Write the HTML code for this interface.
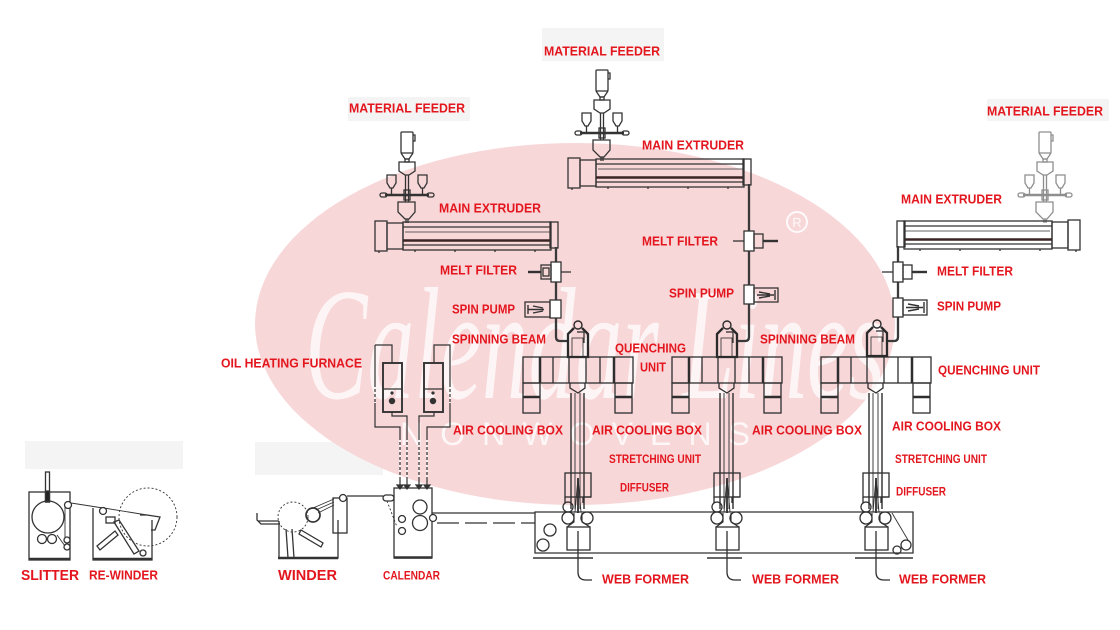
<!DOCTYPE html>
<html>
<head>
<meta charset="utf-8">
<style>
html,body{margin:0;padding:0;background:#fff;}
svg{display:block;}
.lb{font-family:"Liberation Sans",Arial,sans-serif;font-weight:bold;fill:#e3161e;font-size:13px;}
</style>
</head>
<body>
<svg width="1120" height="630" viewBox="0 0 1120 630" xmlns="http://www.w3.org/2000/svg">
<defs>
  <g id="feeder" fill="none" stroke="#333" stroke-width="1.3">
    <rect x="-6" y="0" width="12" height="21" rx="1"/>
    <path d="M6,3 h2 v6 h-2"/>
    <path d="M-6,21 L-2,27 H2 L6,21"/>
    <rect x="-2" y="27" width="4" height="3"/>
    <path d="M-8,30 H8 V39 L2,43 H-2 L-8,39 Z"/>
    <path d="M-1.5,43 V70 M1.5,43 V70"/>
    <path d="M-20,43 H-11 V51 L-14,56 H-17 L-20,51 Z"/>
    <path d="M11,43 H20 V51 L17,56 H14 L11,51 Z"/>
    <path d="M-15.5,56 V62 M15.5,56 V62"/>
    <path d="M-22,63 H22" stroke-width="2.6"/>
    <rect x="-27" y="61" width="7" height="4" rx="2"/>
    <rect x="20" y="61" width="7" height="4" rx="2"/>
    <rect x="-3" y="58" width="6" height="10"/>
    <path d="M-9,70 H8 V80 L2,87 H-2 L-9,80 Z"/>
    <path d="M-1,87 V91 M1,87 V91"/>
  </g>
  <g id="extr" fill="none" stroke="#333" stroke-width="1.3">
    <rect x="0" y="1" width="12" height="30"/>
    <rect x="12" y="3" width="16" height="26"/>
    <rect x="28" y="2" width="148" height="28"/>
    <line x1="28" y1="7" x2="176" y2="7"/>
    <line x1="30" y1="12" x2="176" y2="12" stroke-width="0.8"/>
    <line x1="28" y1="20.5" x2="176" y2="20.5" stroke-width="2.6" stroke="#3a2424"/>
    <line x1="28" y1="25" x2="176" y2="25"/>
    <rect x="175" y="2" width="8" height="26"/>
    <path d="M4,31 v2 M40,30 v2 M80,30 v2 M120,30 v2 M160,30 v2"/>
  </g>
  <g id="beam" fill="none" stroke="#2a2a2a">
    <circle cx="0" cy="4" r="4" stroke-width="1.4"/>
    <path d="M-4,7 L-10,13 V36 H10 V13 L4,7" stroke-width="2.3"/>
    <rect x="-6" y="17" width="11" height="19" stroke-width="0.8"/>
    <path d="M-1,11 H6 V22" stroke-width="1.2"/>
  </g>
  <g id="quench" fill="none" stroke="#2e2e2e" stroke-width="1.3">
    <rect x="-55" y="0" width="110" height="26"/>
    <path d="M-38,0 V26 M36,0 V26" stroke-width="2.5"/>
    <path d="M-25,0 V26 M-9,0 V26 M8,0 V26 M22,0 V26"/>
    <rect x="-55" y="26" width="17" height="30"/>
    <rect x="37" y="26" width="17" height="30"/>
    <path d="M-55,40 H-38 M37,40 H54" stroke-width="2.5"/>
    <path d="M-8,26 V31 L0,36 L7,31 V26"/>
  </g>
  <g id="tube" fill="none" stroke="#2e2e2e">
    <path d="M-7,36 V152 M6,36 V152" stroke-width="1.4"/>
    <path d="M-3,36 V152 M2,36 V152" stroke-width="0.9"/>
    <rect x="-13" y="116" width="26" height="24" stroke-width="1.3"/>
    <path d="M-13,140 V146 M5,140 H13 M5,140 V146" stroke-width="1.3"/>
    <path d="M0,121 L-3,155 M0,121 L3,155" stroke-width="0.9"/>
    <path d="M0,121 V156" stroke-width="1.8"/>
    <circle cx="-10" cy="150" r="5" stroke-width="1.3"/>
    <circle cx="-10" cy="161" r="6" stroke-width="1.3"/>
    <circle cx="9" cy="161" r="6" stroke-width="1.3"/>
    <path d="M-4,156 V165 L-11,170 M4,156 V165 L12,170" stroke-width="1.1"/>
    <rect x="-11" y="170" width="23" height="23" stroke-width="1.3"/>
    <path d="M0,174 V215 Q0,223 8,223 H14" stroke-width="1.3"/>
  </g>
</defs>

<!-- light gray patches -->
<g fill="#f4f4f4">
  <rect x="542" y="28" width="122" height="33"/>
  <rect x="348" y="97" width="122" height="24"/>
  <rect x="987" y="99" width="122" height="22"/>
  <rect x="25" y="441" width="158" height="28"/>
  <rect x="255" y="442" width="128" height="33"/>
</g>

<!-- watermark ellipse -->
<ellipse cx="575" cy="324" rx="320" ry="181" fill="#f8d7d9"/>
<text x="305" y="398" font-family="'Liberation Serif',serif" font-style="italic" font-size="160" fill="#ffffff" opacity="0.75" textLength="580" lengthAdjust="spacingAndGlyphs">Calendar Lines</text>
<text x="400" y="445" font-family="'Liberation Sans',sans-serif" font-size="32" fill="#ffffff" opacity="0.8" textLength="350" lengthAdjust="spacing">NONWOVENS</text>
<circle cx="797" cy="222" r="10" fill="none" stroke="#fff" stroke-width="2" opacity="0.85"/>
<text x="797" y="227" text-anchor="middle" font-family="'Liberation Sans',sans-serif" font-size="13" fill="#fff" opacity="0.85">R</text>

<!-- feeders -->
<use href="#feeder" x="407" y="132"/>
<use href="#feeder" x="602" y="70"/>
<use href="#feeder" x="1045" y="132" opacity="0.55"/>

<!-- extruders -->
<use href="#extr" transform="translate(375,220)"/>
<use href="#extr" transform="translate(568,157)"/>
<use href="#extr" transform="translate(1080,219) scale(-1,1)"/>

<!-- pipes -->
<g fill="none" stroke="#3a3a3a" stroke-width="2.3">
  <path d="M556,247 V337 Q556,341 560,341 H569"/>
  <path d="M749,184 V337 Q749,341 745,341 H736"/>
  <path d="M898,246 V337 Q898,341 894,341 H886"/>
</g>

<!-- melt filters -->
<g fill="none" stroke="#333" stroke-width="1.3">
  <rect x="551" y="262" width="10" height="20" fill="#fff"/>
  <rect x="541" y="265" width="10" height="14"/>
  <rect x="543" y="268" width="6" height="8"/>
  <path d="M528,272 H541" stroke-width="2.4"/>
  <path d="M561,272 H571"/>

  <rect x="744" y="231" width="10" height="20" fill="#fff"/>
  <rect x="754" y="234" width="9" height="14"/>
  <path d="M733,241 H744"/>
  <path d="M763,241 H778" stroke-width="2.4"/>

  <rect x="893" y="262" width="10" height="20" fill="#fff"/>
  <rect x="903" y="265" width="9" height="14"/>
  <path d="M882,272 H893"/>
  <path d="M912,272 H927" stroke-width="2.4"/>
</g>

<!-- spin pumps -->
<g fill="none" stroke="#333" stroke-width="1.3">
  <rect x="550" y="300" width="11" height="18" fill="#fff"/>
  <rect x="525" y="302" width="25" height="15"/>
  <path d="M528,305 V314 M528,309.5 H544 M533,306 L543,308 M533,313 L543,311" stroke-width="1.4"/>

  <rect x="744" y="285" width="10" height="19" fill="#fff"/>
  <rect x="754" y="288" width="24" height="14"/>
  <path d="M775,290 V300 M757,295 H774 M759,292 L770,294 M759,298 L770,296" stroke-width="1.4"/>

  <rect x="893" y="298" width="10" height="19" fill="#fff"/>
  <rect x="903" y="300" width="24" height="15"/>
  <path d="M924,302 V313 M906,307.5 H923 M908,304 L919,306 M908,311 L919,309" stroke-width="1.4"/>
</g>

<!-- spinning beams, quench, tubes -->
<use href="#beam" x="578" y="321"/>
<use href="#beam" x="727" y="321"/>
<use href="#beam" x="877" y="320"/>
<use href="#quench" x="578" y="357"/>
<use href="#quench" x="727" y="357"/>
<use href="#quench" x="876" y="357"/>
<use href="#tube" x="578" y="357"/>
<use href="#tube" x="727" y="357"/>
<use href="#tube" x="876" y="357"/>

<!-- conveyor -->
<g fill="none" stroke="#333" stroke-width="1.3">
  <path d="M535,512 H913 V553 H535 Z"/>
  <path d="M533,558 H593 M707,558 H742 M855,558 H913" stroke-width="1.4"/>
  <circle cx="550" cy="530" r="6"/>
  <circle cx="543" cy="545" r="6"/>
  <circle cx="897" cy="550" r="4"/>
  <circle cx="906" cy="545" r="5"/>
  <path d="M892,513 L908,540" stroke-width="0.9"/>
  <path d="M432,513 H535"/>
  <path d="M437,523 H535" stroke-dasharray="22,6"/>
</g>

<!-- oil heating furnace -->
<g fill="none" stroke="#333" stroke-width="1.2">
  <rect x="383" y="363" width="19" height="49" stroke-width="1.9"/>
  <path d="M383,389 H402"/>
  <circle cx="392" cy="393" r="1" fill="#333"/>
  <circle cx="392" cy="401" r="2.6" fill="#333"/>
  <rect x="424" y="363" width="19" height="49" stroke-width="1.9"/>
  <path d="M424,389 H443"/>
  <circle cx="433" cy="393" r="1" fill="#333"/>
  <circle cx="433" cy="401" r="2.6" fill="#333"/>
  <path d="M375,345 H392 V363"/>
  <path d="M375,345 V427 H400 V485"/>
  <path d="M392,412 V416 H407 V485"/>
  <path d="M434,363 V345 H450 V427 H427 V485"/>
  <path d="M434,412 V416 H419 V485"/>
  <path d="M375,387 V403 M450,387 V403 M400,440 V478 M407,440 V478 M419,440 V478 M427,440 V478" stroke="#fff" stroke-width="1.6" stroke-dasharray="2,3"/>
  <path d="M397,485 L400,489 L403,485 Z M404,485 L407,489 L410,485 Z M416,485 L419,489 L422,485 Z M424,485 L427,489 L430,485 Z" fill="#333"/>
</g>

<!-- calendar -->
<g fill="none" stroke="#333" stroke-width="1.3">
  <rect x="394" y="488" width="38" height="70"/>
  <path d="M394,557.5 H432" stroke-width="2.6"/>
  <circle cx="420" cy="507" r="7"/>
  <circle cx="420" cy="523" r="7.5"/>
  <circle cx="402" cy="519" r="3.5"/>
  <circle cx="402" cy="531" r="3.5"/>
  <circle cx="433" cy="518" r="3.5" fill="#fff"/>
  <rect x="383" y="495" width="11" height="6" rx="3"/>
  <path d="M387,501 L397,527" stroke-dasharray="2,2" stroke-width="0.9"/>
  <path d="M347,496 H383"/>
</g>

<!-- winder -->
<g fill="none" stroke="#333" stroke-width="1.3">
  <path d="M257,513 V520 L261,524 H280"/>
  <path d="M258,521 H279"/>
  <path d="M279,521 V558 H338 V520"/>
  <path d="M278,558 H338" stroke-width="2.6"/>
  <circle cx="293" cy="517" r="15" stroke-dasharray="2,2" stroke-width="0.9"/>
  <circle cx="313" cy="515" r="7" stroke-width="1.7"/>
  <rect x="333" y="498" width="14" height="35"/>
  <circle cx="343" cy="498" r="3.5" fill="#fff"/>
  <path d="M313,508 L334,499 M316,510 L334,502 M318,513 L334,505" stroke-width="0.8"/>
  <path d="M301,530 L323,543 L321,547 L299,534 Z"/>
  <path d="M286,529 L288,558 M292,529 L294,558"/>
</g>

<!-- slitter -->
<g fill="none" stroke="#333" stroke-width="1.3">
  <rect x="29" y="492" width="41" height="68"/>
  <path d="M29,559 H70" stroke-width="2.4"/>
  <rect x="45.5" y="472" width="4" height="30"/>
  <rect x="45.5" y="491" width="4" height="11" fill="#222"/>
  <circle cx="48" cy="517" r="16"/>
  <circle cx="42" cy="539" r="4.5"/>
  <circle cx="52" cy="539" r="4.5"/>
  <circle cx="68" cy="505" r="3.5" fill="#fff"/>
  <circle cx="67" cy="540" r="3" fill="#fff"/>
  <circle cx="67" cy="547" r="3" fill="#fff"/>
  <path d="M65,506 V537 M57,535 L65,546" stroke-width="0.9"/>
  <path d="M71,503 L103,508" stroke-width="0.9"/>
</g>

<!-- re-winder -->
<g fill="none" stroke="#333" stroke-width="1.3">
  <path d="M93,508 V560 H152 V520"/>
  <path d="M93,559 H152" stroke-width="2.4"/>
  <circle cx="148" cy="517" r="29" stroke-dasharray="2,2" stroke-width="0.9"/>
  <circle cx="103" cy="511" r="3.5" fill="#fff"/>
  <path d="M104,508 L147,515" stroke-width="0.9"/>
  <rect x="106" y="517" width="9" height="6"/>
  <path d="M114,522 L134,554 L139,551 L119,520 Z"/>
  <path d="M97,546 L115,531 L118,535 L100,550 Z"/>
  <circle cx="143" cy="553" r="3"/>
  <path d="M140,515 H147 L160,517 L155,530 H151"/>
</g>

<!-- labels -->
<g class="lb">
  <text x="349" y="112.7" textLength="116" lengthAdjust="spacingAndGlyphs">MATERIAL FEEDER</text>
  <text x="544" y="55.7" textLength="116" lengthAdjust="spacingAndGlyphs">MATERIAL FEEDER</text>
  <text x="987" y="115.7" textLength="116" lengthAdjust="spacingAndGlyphs">MATERIAL FEEDER</text>
  <text x="439" y="212.7" textLength="102" lengthAdjust="spacingAndGlyphs">MAIN EXTRUDER</text>
  <text x="642" y="149.7" textLength="102" lengthAdjust="spacingAndGlyphs">MAIN EXTRUDER</text>
  <text x="901" y="203.7" textLength="101" lengthAdjust="spacingAndGlyphs">MAIN EXTRUDER</text>
  <text x="440" y="274.7" textLength="77" lengthAdjust="spacingAndGlyphs">MELT FILTER</text>
  <text x="642" y="245.7" textLength="76" lengthAdjust="spacingAndGlyphs">MELT FILTER</text>
  <text x="937" y="275.7" textLength="76" lengthAdjust="spacingAndGlyphs">MELT FILTER</text>
  <text x="452" y="313.7" textLength="63" lengthAdjust="spacingAndGlyphs">SPIN PUMP</text>
  <text x="669" y="297.7" textLength="65" lengthAdjust="spacingAndGlyphs">SPIN PUMP</text>
  <text x="937" y="310.7" textLength="64" lengthAdjust="spacingAndGlyphs">SPIN PUMP</text>
  <text x="452" y="343.7" textLength="94" lengthAdjust="spacingAndGlyphs">SPINNING BEAM</text>
  <text x="760" y="343.7" textLength="95" lengthAdjust="spacingAndGlyphs">SPINNING BEAM</text>
  <text x="615" y="352.7" textLength="71" lengthAdjust="spacingAndGlyphs">QUENCHING</text>
  <text x="640" y="371.7" textLength="26" lengthAdjust="spacingAndGlyphs">UNIT</text>
  <text x="938" y="374.7" textLength="102" lengthAdjust="spacingAndGlyphs">QUENCHING UNIT</text>
  <text x="221" y="367.7" textLength="141" lengthAdjust="spacingAndGlyphs">OIL HEATING FURNACE</text>
  <text x="453" y="434.7" textLength="110" lengthAdjust="spacingAndGlyphs">AIR COOLING BOX</text>
  <text x="592" y="434.7" textLength="110" lengthAdjust="spacingAndGlyphs">AIR COOLING BOX</text>
  <text x="752" y="434.7" textLength="110" lengthAdjust="spacingAndGlyphs">AIR COOLING BOX</text>
  <text x="892" y="430.7" textLength="109" lengthAdjust="spacingAndGlyphs">AIR COOLING BOX</text>
  <text x="609" y="463" font-size="12" textLength="92" lengthAdjust="spacingAndGlyphs">STRETCHING UNIT</text>
  <text x="895" y="463" font-size="12" textLength="92" lengthAdjust="spacingAndGlyphs">STRETCHING UNIT</text>
  <text x="620" y="491.3" font-size="12" textLength="49" lengthAdjust="spacingAndGlyphs">DIFFUSER</text>
  <text x="896" y="495.3" font-size="12" textLength="50" lengthAdjust="spacingAndGlyphs">DIFFUSER</text>
  <text x="602" y="583.7" textLength="87" lengthAdjust="spacingAndGlyphs">WEB FORMER</text>
  <text x="752" y="583.7" textLength="87" lengthAdjust="spacingAndGlyphs">WEB FORMER</text>
  <text x="899" y="583.7" textLength="87" lengthAdjust="spacingAndGlyphs">WEB FORMER</text>
  <text x="21" y="580" font-size="14.5" textLength="58" lengthAdjust="spacingAndGlyphs">SLITTER</text>
  <text x="89" y="579.5" font-size="13" textLength="69" lengthAdjust="spacingAndGlyphs">RE-WINDER</text>
  <text x="278" y="580" font-size="14.5" textLength="59" lengthAdjust="spacingAndGlyphs">WINDER</text>
  <text x="383" y="579.3" font-size="12" textLength="57" lengthAdjust="spacingAndGlyphs">CALENDAR</text>
</g>
</svg>
</body>
</html>
